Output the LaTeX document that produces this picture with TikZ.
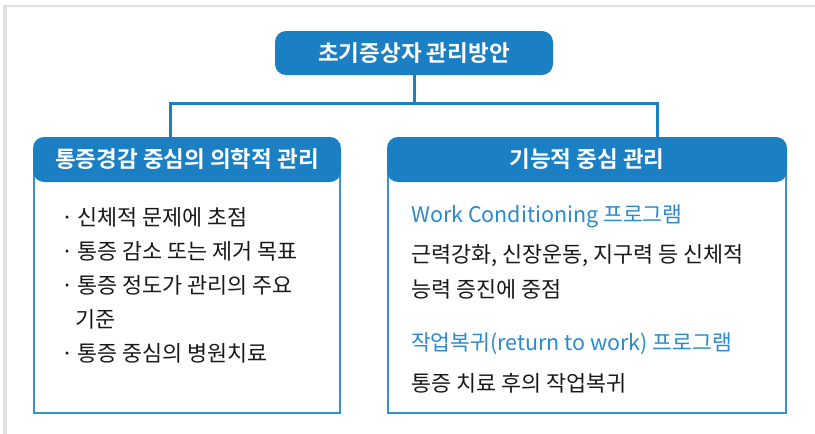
\documentclass[tikz,border=0pt]{standalone}
\usepackage{fontspec}
\newfontfamily\kr{Noto Sans CJK KR}[BoldFont={Noto Sans CJK KR Bold}]
\definecolor{mainblue}{RGB}{27,127,196}
\definecolor{edgeblue}{RGB}{52,145,212}
\definecolor{subblue}{RGB}{42,138,206}
\definecolor{txt}{RGB}{25,25,25}
\definecolor{framegray}{RGB}{224,224,224}
\tikzset{
  headbox/.style={fill=mainblue, rounded corners=11pt, inner sep=0pt},
  headtext/.style={text=white, font=\kr\bfseries\fontsize{22.5}{26}\selectfont, inner sep=0pt},
  bodybox/.style={draw=edgeblue, line width=1.6pt, fill=white},
  link/.style={draw=mainblue, line width=3pt},
  item/.style={anchor=base west, inner sep=0pt, text=txt, font=\kr\fontsize{21.8}{26}\selectfont},
  subhead/.style={anchor=base west, inner sep=0pt, text=subblue, font=\kr\fontsize{21.5}{26}\selectfont},
}
\begin{document}
\begin{tikzpicture}[x=1pt,y=-1pt]
\useasboundingbox (0,0) rectangle (815,434);
% outer frame
\fill[framegray] (3,5) rectangle (815,7);
\fill[framegray] (3,5) rectangle (7,434);

% top node
\node[headbox, minimum width=278pt, minimum height=44pt] (top) at (414,53) {};
\node[headtext] (toptext) at (top.center) {초기증상자 관리방안};

% left box
\draw[bodybox] (33.8,165) rectangle (340.2,413.2);
\node[headbox, minimum width=308pt, minimum height=45pt] (lhead) at (187,159.5) {};
\node[headtext] (lheadtext) at (lhead.center) {통증경감 중심의 의학적 관리};

% right box
\draw[bodybox] (387.8,165) rectangle (786.2,413.2);
\node[headbox, minimum width=400pt, minimum height=45pt] (rhead) at (587,159.5) {};
\node[headtext] (rheadtext) at (rhead.center) {기능적 중심 관리};

% connectors
\coordinate (mid) at (414,103);
\draw[link] (top.south) -- (mid);
\draw[link] (lhead.north -| 170,0) |- (mid) -| (rhead.north -| 657,0);

% left items
\node[item] (l1) at (61,225) {·\,신체적 문제에 초점};
\node[item] (l2) at (61,259) {·\,통증 감소 또는 제거 목표};
\node[item] (l3) at (61,293) {·\,통증 정도가 관리의 주요};
\node[item] (l4) at (75,327) {기준};
\node[item] (l5) at (61,361) {·\,통증 중심의 병원치료};

% right items
\node[subhead] (r1) at (411,222) {Work Conditioning 프로그램};
\node[item] (r2) at (411,262) {근력강화, 신장운동, 지구력 등 신체적};
\node[item] (r3) at (411,297) {능력 증진에 중점};
\node[subhead] (r4) at (411,350) {작업복귀(return to work) 프로그램};
\node[item] (r5) at (411,391) {통증 치료 후의 작업복귀};
\end{tikzpicture}
\end{document}
